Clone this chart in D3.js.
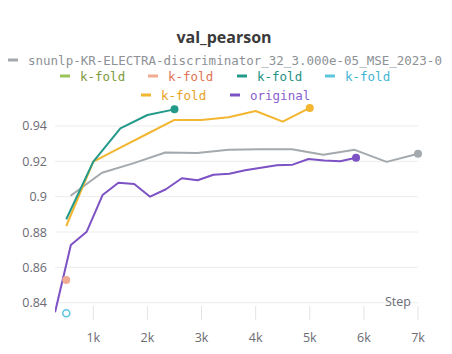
<!DOCTYPE html>
<html>
<head>
<meta charset="utf-8">
<script src="https://cdn.jsdelivr.net/npm/d3@7"></script>
<style>
  body { margin: 0; background: #fff; }
  svg { display: block; }
</style>
</head>
<body>
<div class="chart"></div>
<script>
// series data
var seriesNames = ["snunlp-KR-ELECTRA-discriminator_32_3.000e-05_MSE_2023-0", "k-fold", "k-fold", "k-fold", "k-fold", "k-fold", "original"];
var lineColors = ["#a4a9ad", "#98c45a", "#f2ab93", "#23998a", "#5cc6dc", "#f2b630", "#7c52c4"];
var textColors = ["#8d9196", "#7d9a3c", "#e07355", "#23917f", "#3fb5d4", "#e8a21a", "#8a5fd0"];

var grayStep = [580, 1160, 1750, 2330, 2920, 3500, 4080, 4670, 5250, 5830, 6420, 7000];
var grayVal = [0.9005, 0.9135, 0.919, 0.925, 0.9247, 0.9265, 0.9268, 0.9268, 0.9237, 0.9265, 0.9197, 0.9243];

var salmonStep = [500];
var salmonVal = [0.8529];

var tealStep = [500, 1000, 1500, 2000, 2500];
var tealVal = [0.8872, 0.9198, 0.9387, 0.9462, 0.9494];

var cyanStep = [500];
var cyanVal = [0.834];

var yellowStep = [500, 1000, 1500, 2000, 2500, 3000, 3500, 4000, 4500, 5000];
var yellowVal = [0.8834, 0.9198, 0.9277, 0.9356, 0.9434, 0.9434, 0.9449, 0.9485, 0.9425, 0.9502];

var purpleStep = [293, 585, 878, 1171, 1464, 1756, 2049, 2342, 2635, 2927, 3220, 3513, 3806, 4098, 4391, 4684, 4977, 5269, 5562, 5855];
var purpleVal = [0.8346, 0.8727, 0.8802, 0.9009, 0.9079, 0.9072, 0.9, 0.9042, 0.9104, 0.9093, 0.9124, 0.913, 0.915, 0.9164, 0.9178, 0.9181, 0.9213, 0.9205, 0.92, 0.922];

var yTicks = [0.84, 0.86, 0.88, 0.9, 0.92, 0.94];
var yTickLabels = ["0.84", "0.86", "0.88", "0.9", "0.92", "0.94"];
var xTicks = [1000, 2000, 3000, 4000, 5000, 6000, 7000];

var zip = function(s, v) { return s.map(function(d, i) { return {step: d, val: v[i]}; }); };

var svg = d3.select(".chart").append("svg")
    .attr("width", 452)
    .attr("height", 354);

var plotLeft = 55, plotRight = 418, plotTop = 100, plotBottom = 314;

var x = d3.scaleLinear().domain([292, 7000]).range([plotLeft, plotRight]);
var y = d3.scaleLinear().domain([0.8336, 0.9547]).range([plotBottom, plotTop]);

svg.append("defs").append("clipPath")
    .attr("id", "plot-clip")
  .append("rect")
    .attr("x", plotLeft)
    .attr("y", plotTop - 10)
    .attr("width", plotRight - plotLeft + 10)
    .attr("height", plotBottom - plotTop + 10);

// title
svg.append("text")
    .attr("x", 224)
    .attr("y", 43)
    .attr("text-anchor", "middle")
    .style("font-family", "'Open Sans', sans-serif")
    .style("font-weight", "bold")
    .style("font-size", "16px")
    .style("fill", "#3a3a3a")
    .text("val_pearson");

// legend
var legendPos = [
  {x: 8, y: 60}, {x: 60, y: 76}, {x: 148, y: 76}, {x: 237, y: 76}, {x: 325, y: 76},
  {x: 141, y: 95}, {x: 230, y: 95}
];
var legend = svg.selectAll("g.legend")
    .data(seriesNames)
  .enter().append("g")
    .attr("class", "legend")
    .attr("transform", function(d, i) { return "translate(" + legendPos[i].x + "," + legendPos[i].y + ")"; });

legend.append("line")
    .attr("x1", 0)
    .attr("x2", 10)
    .style("stroke", function(d, i) { return lineColors[i]; })
    .style("stroke-width", "3px");

legend.append("text")
    .attr("x", 20)
    .attr("y", 4.5)
    .style("font-family", "'DejaVu Sans Mono', monospace")
    .style("font-size", "12.5px")
    .style("fill", function(d, i) { return textColors[i]; })
    .text(function(d) { return d; });

// grid + y labels
svg.selectAll("line.grid")
    .data(yTicks)
  .enter().append("line")
    .attr("class", "grid")
    .attr("x1", plotLeft)
    .attr("x2", plotRight)
    .attr("y1", function(d) { return y(d); })
    .attr("y2", function(d) { return y(d); })
    .style("stroke", "#ececec")
    .style("stroke-width", "1px");

svg.selectAll("text.ylab")
    .data(yTicks)
  .enter().append("text")
    .attr("class", "ylab")
    .attr("x", 47)
    .attr("y", function(d) { return y(d) + 4.5; })
    .attr("text-anchor", "end")
    .style("font-family", "'Open Sans', sans-serif")
    .style("font-size", "12.5px")
    .style("fill", "#6b6b73")
    .text(function(d, i) { return yTickLabels[i]; });

// x ticks
svg.selectAll("line.xtick")
    .data(xTicks)
  .enter().append("line")
    .attr("class", "xtick")
    .attr("x1", function(d) { return x(d); })
    .attr("x2", function(d) { return x(d); })
    .attr("y1", 306)
    .attr("y2", 320)
    .style("stroke", "#e4e4e4")
    .style("stroke-width", "1px");

svg.selectAll("text.xlab")
    .data(xTicks)
  .enter().append("text")
    .attr("class", "xlab")
    .attr("x", function(d) { return x(d); })
    .attr("y", 342)
    .attr("text-anchor", "middle")
    .style("font-family", "'Open Sans', sans-serif")
    .style("font-size", "12.5px")
    .style("fill", "#6b6b73")
    .text(function(d) { return d3.format("d")(d / 1000) + "k"; });

svg.append("text")
    .attr("x", 411)
    .attr("y", 306)
    .attr("text-anchor", "end")
    .style("font-family", "'Open Sans', sans-serif")
    .style("font-size", "12.5px")
    .style("fill", "#6b6b73")
    .text("Step");

// lines
var line = d3.line()
    .x(function(d) { return x(d.step); })
    .y(function(d) { return y(d.val); });

var plot = svg.append("g").attr("clip-path", "url(#plot-clip)");

var drawn = [
  {data: zip(grayStep, grayVal), c: 0},
  {data: zip(yellowStep, yellowVal), c: 5},
  {data: zip(tealStep, tealVal), c: 3},
  {data: zip(purpleStep, purpleVal), c: 6}
];

drawn.forEach(function(s) {
  plot.append("path")
      .datum(s.data)
      .attr("d", line)
      .style("fill", "none")
      .style("stroke", lineColors[s.c])
      .style("stroke-width", "2px")
      .style("stroke-linejoin", "round");
  var last = s.data[s.data.length - 1];
  svg.append("circle")
      .attr("cx", x(last.step))
      .attr("cy", y(last.val))
      .attr("r", 4)
      .style("fill", lineColors[s.c]);
});

svg.append("circle")
    .attr("cx", x(salmonStep[0]))
    .attr("cy", y(salmonVal[0]))
    .attr("r", 4)
    .style("fill", lineColors[2]);

svg.append("circle")
    .attr("cx", x(cyanStep[0]))
    .attr("cy", y(cyanVal[0]))
    .attr("r", 3.5)
    .style("fill", "#fff")
    .style("stroke", lineColors[4])
    .style("stroke-width", "1.5px");
</script>
</body>
</html>
